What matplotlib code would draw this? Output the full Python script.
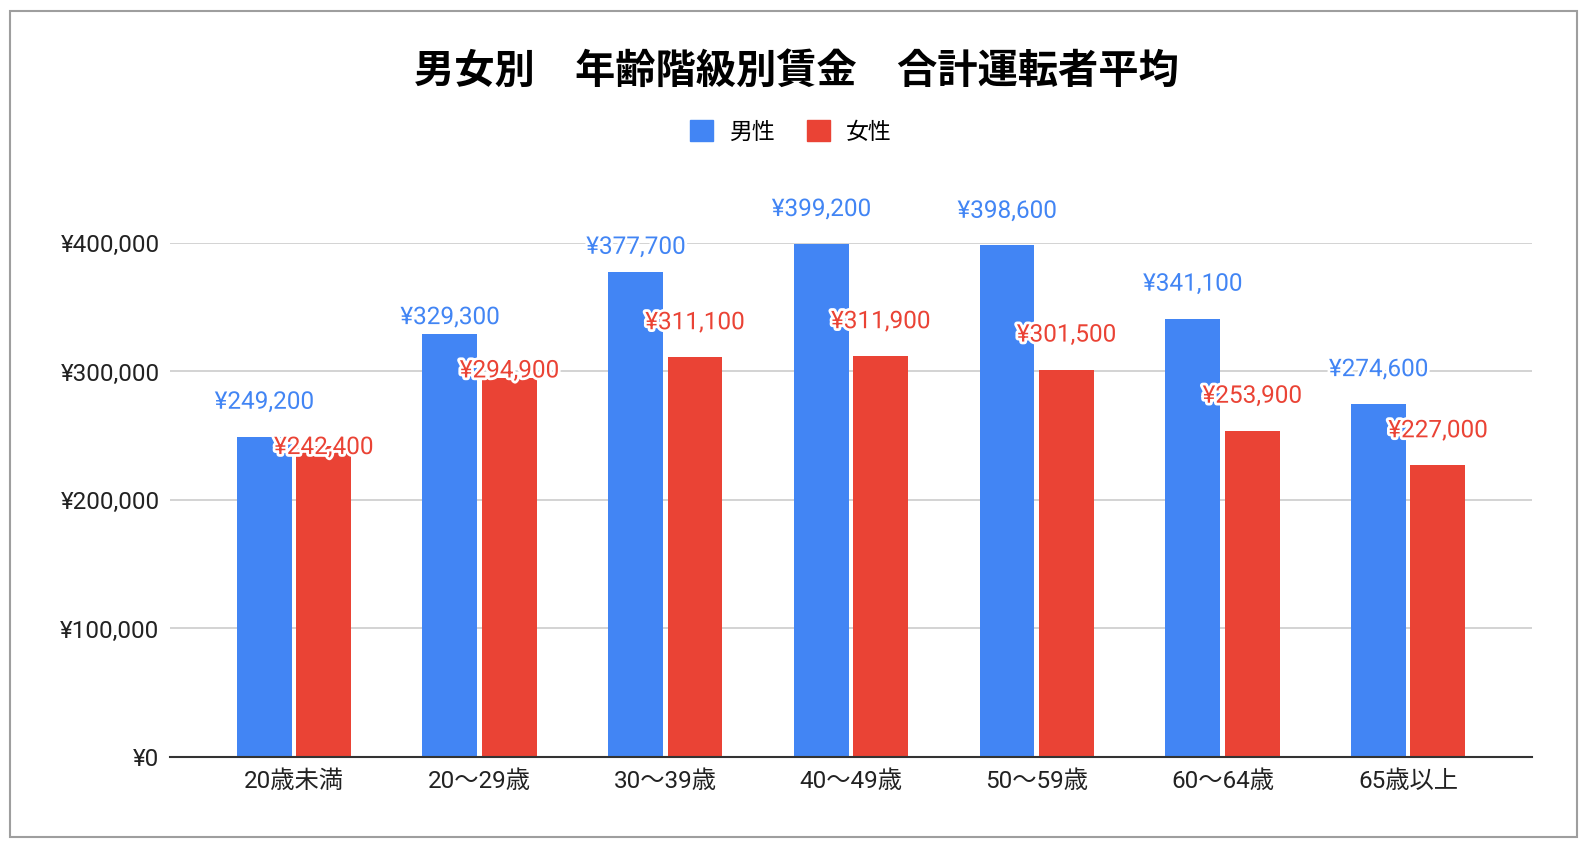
import matplotlib.pyplot as plt
import matplotlib.patheffects as pe
from matplotlib.patches import Rectangle, Patch
import numpy as np

# Data
categories = ['20歳未満', '20〜29歳', '30〜39歳', '40〜49歳', '50〜59歳', '60〜64歳', '65歳以上']
male = [249200, 329300, 377700, 399200, 398600, 341100, 274600]
female = [242400, 294900, 311100, 311900, 301500, 253900, 227000]
series_names = ['男性', '女性']
yticks = [0, 100000, 200000, 300000, 400000]

# label lift above bar top (pixels), chart tool nudges a few to avoid overlap
male_lift = [34, 16, 24, 34, 33, 34, 34]
female_lift = [-2, 7, 34, 34, 34, 34, 34]

BLUE = '#4285F4'
RED = '#EA4335'
FONT = ['Roboto', 'Noto Sans CJK JP', 'DejaVu Sans']
plt.rcParams['font.family'] = FONT

fig = plt.figure(figsize=(15.92, 8.52), dpi=100)
ax = fig.add_axes([0.1068, 0.1115, 0.8555, 0.6033])

x = np.arange(len(categories))
w = 0.296
off = 0.16
ax.bar(x - off, male, w, color=BLUE, zorder=2)
ax.bar(x + off, female, w, color=RED, zorder=2)

halo = [pe.withStroke(linewidth=4, foreground='white')]
for i in range(len(categories)):
    ax.annotate(f'¥{male[i]:,}', (x[i] - off, male[i]), xytext=(0, male_lift[i] * 1.015),
                textcoords='offset pixels', ha='center', va='center', color=BLUE,
                fontsize=17.5, path_effects=halo, zorder=4, annotation_clip=False)
    ax.annotate(f'¥{female[i]:,}', (x[i] + off, female[i]), xytext=(0, female_lift[i] * 1.015),
                textcoords='offset pixels', ha='center', va='center', color=RED,
                fontsize=17.5, path_effects=halo, zorder=4, annotation_clip=False)

ax.set_xlim(-0.667, len(categories) - 1 + 0.667)
ax.set_ylim(0, 400000)
ax.set_yticks(yticks)
ax.set_yticklabels([f'¥{v:,}' for v in yticks], fontsize=17.5, color='#222222')
ax.set_xticks(x)
ax.set_xticklabels(categories, fontsize=17.5, color='#222222')
ax.tick_params(axis='both', length=0)
ax.tick_params(axis='y', pad=7.5)
ax.tick_params(axis='x', pad=9)
ax.grid(axis='y', color='#cccccc', linewidth=1.2, zorder=0)
for s in ['top', 'right', 'left']:
    ax.spines[s].set_visible(False)
ax.spines['bottom'].set_color('#333333')
ax.spines['bottom'].set_linewidth(1.5)
ax.spines['bottom'].set_zorder(3)

fig.text(0.5, 1 - 71 / 852, '男女別　年齢階級別賃金　合計運転者平均', ha='center', va='center',
         fontsize=29, fontweight='bold', family=['Noto Sans CJK JP', 'DejaVu Sans'])

handles = [Patch(color=BLUE, label=series_names[0]), Patch(color=RED, label=series_names[1])]
fig.legend(handles=handles, loc='center', bbox_to_anchor=(0.497, 1 - 132 / 852), ncol=2,
           frameon=False, handlelength=1.0, handleheight=1.0,
           handletextpad=0.7, columnspacing=1.4, prop={'family': ['Noto Sans CJK JP'], 'size': 16.5})

# outer frame
fig.add_artist(Rectangle((10 / 1592, 15 / 852), 1567 / 1592, 826 / 852, transform=fig.transFigure,
                         fill=False, edgecolor='#9e9e9e', linewidth=1.5))

fig.savefig('out.png', dpi=100, facecolor='white')
